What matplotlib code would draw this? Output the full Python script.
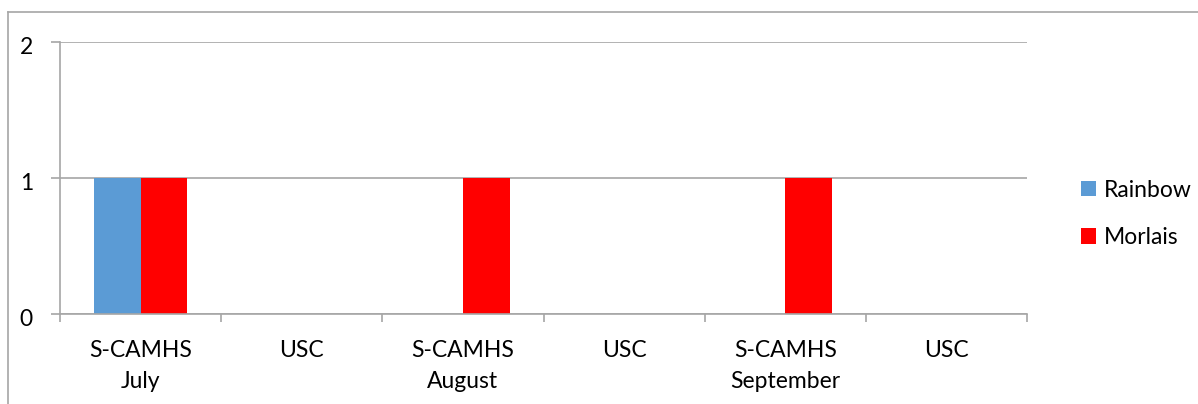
import matplotlib.pyplot as plt
import matplotlib.transforms as mtrans
from matplotlib.lines import Line2D
import numpy as np

plt.rcParams['font.family'] = ['Lato', 'DejaVu Sans']

# data
categories = ['S-CAMHS\nJuly', 'USC', 'S-CAMHS\nAugust', 'USC', 'S-CAMHS\nSeptember', 'USC']
rainbow = [1, 0, 0, 0, 0, 0]
morlais = [1, 0, 1, 0, 1, 0]
y_ticks = [0, 1, 2]

grid_col = '#A6A6A6'
fs = 16.5

fig = plt.figure(figsize=(11.98, 4.04), dpi=100)
ax = fig.add_axes([60 / 1198, 1 - 314 / 404, (1027 - 60) / 1198, (314 - 42) / 404])

x = np.arange(len(categories))
w = 0.29
ax.bar(x - w / 2, rainbow, width=w, color='#5B9BD5', label='Rainbow', zorder=3)
ax.bar(x + w / 2, morlais, width=w, color='#FF0000', label='Morlais', zorder=3)

ax.set_xlim(-0.5, len(categories) - 0.5)
ax.set_ylim(0, 2)

# category boundaries as major ticks, labels on minor ticks
ax.set_xticks(np.arange(-0.5, len(categories), 1.0))
ax.set_xticklabels([])
ax.set_xticks(x, minor=True)
ax.set_xticklabels(categories, minor=True, fontsize=fs, linespacing=1.55)
ax.tick_params(axis='x', which='major', direction='out', length=6, width=1.2, color=grid_col)
ax.tick_params(axis='x', which='minor', length=0, pad=19)

ax.set_yticks(y_ticks)
ax.set_yticklabels([str(v) for v in y_ticks], fontsize=fs)
ax.tick_params(axis='y', direction='out', length=6.5, width=1.2, color=grid_col, pad=13)
shift = mtrans.ScaledTranslation(0, -4 / 100, fig.dpi_scale_trans)
for lab in ax.get_yticklabels():
    lab.set_va('center_baseline')
    lab.set_transform(lab.get_transform() + shift)

ax.grid(axis='y', color=grid_col, linewidth=1.2, zorder=0)
for s in ['top', 'right']:
    ax.spines[s].set_visible(False)
for s in ['left', 'bottom']:
    ax.spines[s].set_color(grid_col)
    ax.spines[s].set_linewidth(1.2)
    ax.spines[s].set_zorder(4)

ax.legend(loc='center left', bbox_to_anchor=(1060 / 1198, 1 - 214 / 404),
          bbox_transform=fig.transFigure, frameon=False, fontsize=fs,
          handlelength=0.65, handleheight=0.65, handletextpad=0.35, labelspacing=1.15)

# outer chart border (top and left edges visible)
fig.add_artist(Line2D([8 / 1198, 8 / 1198], [0, 1 - 12 / 404], transform=fig.transFigure,
                      color=grid_col, linewidth=1.2))
fig.add_artist(Line2D([8 / 1198, 1], [1 - 12 / 404, 1 - 12 / 404], transform=fig.transFigure,
                      color=grid_col, linewidth=1.2))

plt.savefig('out.png', dpi=100)
